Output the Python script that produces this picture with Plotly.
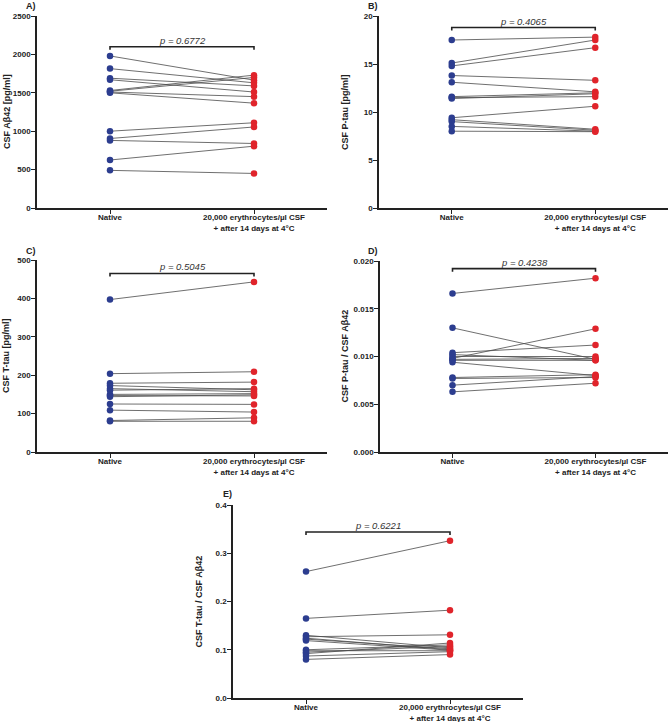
import plotly.graph_objects as go

W, H = 669, 722

categories = ["Native", "20,000 erythrocytes/µl CSF<br>+ after 14 days at 4°C"]

# Panel A: CSF Abeta42 [pg/ml]
a_native = [1980, 1815, 1690, 1670, 1530, 1520, 1510, 1500, 1000, 905, 880, 625, 490]
a_treated = [1665, 1630, 1590, 1510, 1730, 1700, 1450, 1365, 1110, 1055, 840, 805, 450]
# Panel B: CSF P-tau [pg/ml]
b_native = [17.5, 15.1, 14.8, 13.8, 13.1, 11.6, 11.5, 11.4, 9.4, 9.2, 9.0, 8.5, 8.0]
b_treated = [17.8, 17.5, 16.7, 13.3, 12.1, 12.0, 11.6, 11.9, 10.6, 8.2, 8.1, 8.0, 7.95]
# Panel C: CSF T-tau [pg/ml]
c_native = [397, 204, 179, 173, 165, 161, 150, 147, 144, 125, 109, 82, 80]
c_treated = [443, 209, 182, 162, 157, 165, 152, 146, 149, 124, 104, 89, 80]
# Panel D: P-tau / Abeta42
d_native = [0.0166, 0.0130, 0.0104, 0.0102, 0.0100, 0.0098, 0.0097, 0.0096, 0.0094, 0.0078, 0.0077, 0.0070, 0.0063]
d_treated = [0.0182, 0.0097, 0.0112, 0.0096, 0.0100, 0.0129, 0.0098, 0.0096, 0.0080, 0.0081, 0.0078, 0.0079, 0.0072]
# Panel E: T-tau / Abeta42
e_native = [0.262, 0.165, 0.130, 0.127, 0.124, 0.122, 0.119, 0.100, 0.098, 0.095, 0.092, 0.087, 0.080]
e_treated = [0.326, 0.182, 0.104, 0.131, 0.100, 0.102, 0.099, 0.110, 0.098, 0.107, 0.114, 0.096, 0.090]

p_values = ["p = 0.6772", "p = 0.4065", "p = 0.5045", "p = 0.4238", "p = 0.6221"]
panel_letters = ["A)", "B)", "C)", "D)", "E)"]
y_titles = ["CSF Aβ42 [pg/ml]", "CSF P-tau [pg/ml]", "CSF T-tau [pg/ml]",
            "CSF P-tau / CSF Aβ42", "CSF T-tau / CSF Aβ42"]
y_ticks = [[0, 500, 1000, 1500, 2000, 2500],
           [0, 5, 10, 15, 20],
           [0, 100, 200, 300, 400, 500],
           [0.000, 0.005, 0.010, 0.015, 0.020],
           [0.0, 0.1, 0.2, 0.3, 0.4]]
y_ticktext = [[str(v) for v in y_ticks[0]],
              [str(v) for v in y_ticks[1]],
              [str(v) for v in y_ticks[2]],
              [f"{v:.3f}" for v in y_ticks[3]],
              [f"{v:.1f}" for v in y_ticks[4]]]
bracket_frac = [0.84, 0.94, 0.93, 0.96, 0.86]

natives = [a_native, b_native, c_native, d_native, e_native]
treateds = [a_treated, b_treated, c_treated, d_treated, e_treated]

# layout geometry in pixels: (axis_left, axis_right, top, bottom, title_x, letter_x, letter_y)
geom = [
    (37, 327, 16, 208, 7, 31, 6),
    (379, 668, 16, 208, 345, 373, 6),
    (37, 327, 260, 452, 6, 31, 251),
    (380, 668, 261, 452, 344, 373, 251),
    (233, 523, 505, 698, 198, 227, 494),
]

BLUE = "#2C3D8F"
RED = "#E0242B"
LINE = "#4a4a4a"
FONT = "Arial, Liberation Sans, sans-serif"

fig = go.Figure()
annotations = []
shapes = []

for i in range(5):
    xl, xr, yt, yb, tx, lx, ly = geom[i]
    suffix = "" if i == 0 else str(i + 1)
    xa, ya = "x" + suffix, "y" + suffix
    nat, trt = natives[i], treateds[i]
    lx_pts, ly_pts = [], []
    for n, t in zip(nat, trt):
        lx_pts += [0, 1, None]
        ly_pts += [n, t, None]
    fig.add_trace(go.Scatter(x=lx_pts, y=ly_pts, mode="lines",
                             line=dict(color=LINE, width=0.8),
                             xaxis=xa, yaxis=ya, showlegend=False, hoverinfo="skip"))
    fig.add_trace(go.Scatter(x=[0] * len(nat), y=nat, mode="markers",
                             marker=dict(color=BLUE, size=6.5),
                             xaxis=xa, yaxis=ya, showlegend=False))
    fig.add_trace(go.Scatter(x=[1] * len(trt), y=trt, mode="markers",
                             marker=dict(color=RED, size=6.5),
                             xaxis=xa, yaxis=ya, showlegend=False))

    ymax = y_ticks[i][-1]
    xdom = [xl / W, xr / W]
    ydom = [1 - yb / H, 1 - yt / H]
    fig.layout["xaxis" + suffix] = dict(
        domain=xdom, anchor=ya, range=[-0.507, 1.507],
        tickvals=[0, 1], ticktext=categories,
        showline=True, linecolor="#222", linewidth=1.5,
        ticks="outside", ticklen=4, tickwidth=1.2, tickcolor="#222",
        ticklabelstandoff=-3,
        tickfont=dict(family=FONT, size=8, color="#222", weight="bold"),
        showgrid=False, zeroline=False, fixedrange=True, automargin=False,
    )
    fig.layout["yaxis" + suffix] = dict(
        domain=ydom, anchor=xa, range=[0, ymax],
        tickvals=y_ticks[i], ticktext=y_ticktext[i],
        showline=True, linecolor="#222", linewidth=1.5,
        ticks="outside", ticklen=4, tickwidth=1.2, tickcolor="#222",
        ticklabelstandoff=-1,
        tickfont=dict(family=FONT, size=8, color="#222", weight="bold"),
        showgrid=False, zeroline=False, fixedrange=True, automargin=False,
    )

    # significance bracket
    by = bracket_frac[i] * ymax
    dy = ymax * 3.0 / (yb - yt)
    shapes.append(dict(type="path", xref=xa, yref=ya,
                       path=f"M 0 {by - dy} L 0 {by} L 1 {by} L 1 {by - dy}",
                       line=dict(color="#222", width=1.6)))
    annotations.append(dict(x=0.5, y=by, xref=xa, yref=ya, text=f"<i>{p_values[i]}</i>",
                            showarrow=False, yanchor="bottom", yshift=-1,
                            font=dict(family=FONT, size=9.5, color="#333")))
    # y title
    annotations.append(dict(x=tx / W, y=1 - (yt + yb) / 2 / H, xref="paper", yref="paper",
                            text=y_titles[i], textangle=-90, showarrow=False,
                            xanchor="center", yanchor="middle",
                            font=dict(family=FONT, size=9, color="#222", weight="bold")))
    # panel letter
    annotations.append(dict(x=lx / W, y=1 - ly / H, xref="paper", yref="paper",
                            text=panel_letters[i], showarrow=False,
                            xanchor="center", yanchor="middle",
                            font=dict(family=FONT, size=9, color="#222", weight="bold")))

fig.update_layout(
    width=W, height=H, margin=dict(l=0, r=0, t=0, b=0, autoexpand=False),
    paper_bgcolor="white", plot_bgcolor="white",
    annotations=annotations, shapes=shapes, showlegend=False,
    font=dict(family=FONT),
)

fig.write_html("out.html", config={"displayModeBar": False},
               post_script="document.body.style.margin='0';document.body.style.overflow='hidden';")
